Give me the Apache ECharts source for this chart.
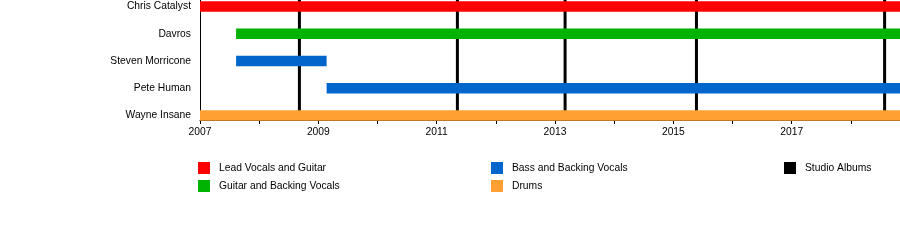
<!DOCTYPE html>
<html>
<head>
<meta charset="utf-8">
<script src="https://cdn.jsdelivr.net/npm/echarts@6/dist/echarts.min.js"></script>
<style>html,body{margin:0;padding:0;background:#fff}#c{width:900px;height:240px}</style>
</head>
<body>
<div id="c"></div>
<script>
// ---- data ----
const axisMin = 2007;
const axisMax = 2018.83;
const tickLabels = ['2007', '2009', '2011', '2013', '2015', '2017'];
const members = ['Chris Catalyst', 'Davros', 'Steven Morricone', 'Pete Human', 'Wayne Insane'];
const roles = ['Lead Vocals and Guitar', 'Guitar and Backing Vocals', 'Bass and Backing Vocals', 'Drums'];
const periodMember = [0, 1, 2, 3, 4];
const periodRole = [0, 1, 2, 2, 3];
const periodStart = [2007, 2007.61, 2007.61, 2009.14, 2007];
const periodEnd = [2018.83, 2018.83, 2009.14, 2018.83, 2018.83];
const albumLabel = 'Studio Albums';
const albumYears = [2008.68, 2011.35, 2013.17, 2015.39, 2018.57];

// ---- styles ----
const roleColors = ['#ff0000', '#00b300', '#0066cc', '#ffa033'];
const FONT = '"Liberation Sans", Arial, Helvetica, sans-serif';
const FS = 10.3;
const BAR_H = 10.6;

const chart = echarts.init(document.getElementById('c'), null, {renderer: 'canvas'});

const roleSeries = roles.map((r, ri) => ({
  name: r,
  type: 'custom',
  xAxisIndex: 1,
  yAxisIndex: 1,
  z: 3,
  itemStyle: {color: roleColors[ri]},
  encode: {x: [0, 1], y: 2},
  data: periodRole.map((pr, i) => pr === ri ? [periodStart[i], periodEnd[i], periodMember[i]] : null).filter(d => d),
  renderItem: (params, api) => {
    const s = api.coord([api.value(0), api.value(2)]);
    const e = api.coord([api.value(1), api.value(2)]);
    return {
      type: 'rect',
      shape: {x: s[0], y: s[1] - BAR_H / 2, width: e[0] - s[0], height: BAR_H},
      style: {fill: api.visual('color')}
    };
  }
}));

const albumSeries = {
  name: albumLabel,
  type: 'custom',
  xAxisIndex: 0,
  yAxisIndex: 0,
  z: 2,
  itemStyle: {color: '#000'},
  encode: {x: 0},
  data: albumYears.map(y => [y]),
  renderItem: (params, api) => {
    const t = api.coord([api.value(0), 1]);
    const b = api.coord([api.value(0), 0]);
    return {
      type: 'line',
      shape: {x1: t[0], y1: t[1], x2: b[0], y2: b[1] - 2},
      style: {stroke: '#000', lineWidth: 3}
    };
  }
};

const legendText = {fontFamily: FONT, fontSize: FS, color: '#000', padding: [2, 0, 0, 4]};
const mkLegend = (left, names) => ({
  left: left, top: 162, orient: 'vertical', padding: 0,
  itemWidth: 12, itemHeight: 12, itemGap: 6,
  selectedMode: false,
  textStyle: legendText,
  data: names.map(n => ({name: n, icon: 'rect'}))
});

chart.setOption({
  animation: false,
  backgroundColor: '#fff',
  grid: [
    {left: 200, right: 0, top: 0, height: 120},
    {left: 200, right: 0, top: 6.5, height: 109}
  ],
  xAxis: [
    {
      type: 'value', gridIndex: 0, min: axisMin, max: axisMax, interval: 1,
      axisLine: {show: true, lineStyle: {color: '#000', width: 1}},
      axisTick: {show: true, length: 4, lineStyle: {color: '#000'}},
      splitLine: {show: false},
      axisLabel: {
        margin: 7, fontFamily: FONT, fontSize: FS, color: '#000',
        showMaxLabel: false,
        formatter: v => { const s = String(Math.round(v)); return (Math.abs(v - Math.round(v)) < 1e-6 && tickLabels.includes(s)) ? s : ''; }
      }
    },
    {type: 'value', gridIndex: 1, min: axisMin, max: axisMax, show: false}
  ],
  yAxis: [
    {
      type: 'value', gridIndex: 0, min: 0, max: 1,
      axisLine: {show: true, lineStyle: {color: '#000', width: 1}},
      axisTick: {show: false}, axisLabel: {show: false}, splitLine: {show: false}
    },
    {
      type: 'category', gridIndex: 1, inverse: true, data: members, boundaryGap: false,
      axisLine: {show: false}, axisTick: {show: false}, splitLine: {show: false},
      axisLabel: {margin: 9, fontFamily: FONT, fontSize: FS, color: '#000'}
    }
  ],
  legend: [
    mkLegend(198, roles.slice(0, 2)),
    mkLegend(491, roles.slice(2, 4)),
    mkLegend(784, [albumLabel])
  ],
  series: [albumSeries].concat(roleSeries)
});
</script>
</body>
</html>
